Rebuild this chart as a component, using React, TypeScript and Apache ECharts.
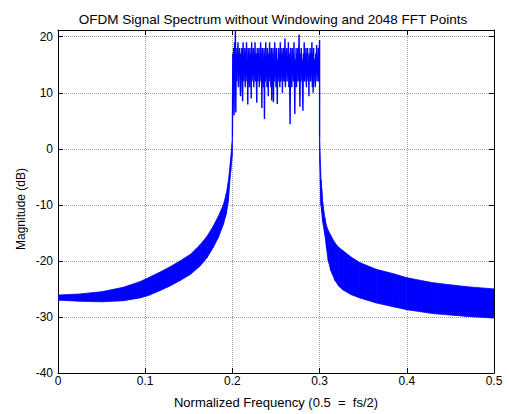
import React, { useEffect, useRef } from "react";
import * as echarts from "echarts";

const TITLE = "OFDM Signal Spectrum without Windowing and 2048 FFT Points";
const X_NAME = "Normalized Frequency (0.5  =  fs/2)";
const Y_NAME = "Magnitude (dB)";

// Lower sideband leakage envelope (0 .. 0.2)
const LEFT_F = [0, 0.025, 0.05, 0.075, 0.094, 0.105, 0.117, 0.128, 0.14, 0.152, 0.163, 0.171, 0.178, 0.184, 0.1896, 0.193, 0.1953, 0.198, 0.2];
const LEFT_LO = [-27.0, -27.2, -27.3, -27.1, -26.6, -26.1, -25.3, -24.5, -23.5, -22.4, -20.9, -19.4, -17.6, -15.8, -13.5, -11.6, -9.4, -4.1, -1];
const LEFT_HI = [-26.1, -25.9, -25.5, -24.7, -23.7, -22.9, -22.0, -21.1, -20.0, -18.8, -17.1, -15.6, -13.8, -12.0, -10.0, -8.0, -5.9, -1.8, 2];

// Upper sideband leakage envelope (0.3 .. 0.5)
const RIGHT_F = [0.3, 0.3016, 0.3024, 0.3035, 0.306, 0.308, 0.31, 0.313, 0.3177, 0.322, 0.327, 0.336, 0.346, 0.365, 0.385, 0.4, 0.43, 0.469, 0.5];
const RIGHT_LO = [-2, -10, -11.3, -13, -15.3, -17.8, -20.0, -21.8, -23.5, -24.5, -25.2, -26.0, -26.6, -27.5, -28.2, -28.7, -29.4, -29.9, -30.2];
const RIGHT_HI = [2, -5.5, -7.1, -9.5, -12.3, -13.8, -14.6, -15.5, -16.8, -17.6, -18.2, -19.3, -20.3, -21.5, -22.3, -23.0, -23.9, -24.6, -25.0];

// In-band FFT bins (0.2 .. 0.3), evenly spaced
const BAND_START = 0.2;
const BAND_END = 0.3;
const IN_BAND_DB = [
  2, 17, 12, 18, 6, 19, 13, 21.2, 6.5, 17, 12, 18, 14, 19, 11, 17, 13, 18, 12, 9.4,
  17, 13, 18, 11, 8.5, 19, 12, 16, 14, 18, 11, 17, 13, 19, 12, 16, 7.9, 18, 13, 17,
  11, 18, 14, 16, 9, 19, 12, 17, 13, 18, 11, 16, 14, 19, 12, 17, 13, 8.2, 18, 12,
  17, 14, 18, 11, 16, 13, 19, 12, 17, 7.3, 18, 13, 16, 11, 18, 5.3, 17, 12, 19, 13,
  16, 11, 18, 14, 9.4, 17, 12, 19, 13, 16, 11, 18, 8.6, 17, 13, 18, 8.3, 16, 12, 19,
  13, 17, 11, 18, 14, 8, 16, 12, 18, 13, 17, 11, 19, 12, 16, 14, 18, 10, 17, 13,
  18, 12, 16, 19.7, 11, 17, 14, 18, 12, 16, 13, 19, 11, 17, 12, 4.4, 18, 13, 16, 11,
  18, 14, 17, 12, 19, 13, 6.2, 16, 12, 18, 11, 17, 14, 18, 12, 16, 20.4, 13, 7.5, 17,
  12, 18, 14, 16, 11, 6.8, 17, 13, 19, 12, 16, 14, 18, 11, 17, 13, 18, 12, 16, 9.4,
  17, 13, 18, 12, 16, 14, 19, 11, 17, 10, 18, 13, 16, 12, 11, 17, 14, 18.5, 12, 16,
  13, 18, 12, 17, 19.4,
];

const X_MIN = 0;
const X_MAX = 0.5;
const X_INTERVAL = 0.1;
const Y_MIN = -40;
const Y_MAX = 21.2;
const Y_INTERVAL = 10;

const BLUE = "#0000ff";
const FONT = "Liberation Sans, Arial, Helvetica, sans-serif";

function quads(f: number[], lo: number[], hi: number[]) {
  const out: number[][] = [];
  for (let i = 0; i < f.length - 1; i++) {
    out.push([f[i], lo[i], hi[i], f[i + 1], lo[i + 1], hi[i + 1]]);
  }
  return out;
}

export default function App() {
  const ref = useRef<HTMLDivElement>(null);

  useEffect(() => {
    if (!ref.current) return;
    const chart = echarts.init(ref.current, undefined, { renderer: "svg" });

    const n = IN_BAND_DB.length;
    const bandLine: number[][] = IN_BAND_DB.map((v, i) => [
      BAND_START + (i * (BAND_END - BAND_START)) / (n - 1),
      v,
    ]);
    bandLine.unshift([LEFT_F[LEFT_F.length - 1], LEFT_HI[LEFT_HI.length - 1]]);
    bandLine.push([RIGHT_F[0], RIGHT_HI[0]]);

    const envData = [...quads(LEFT_F, LEFT_LO, LEFT_HI), ...quads(RIGHT_F, RIGHT_LO, RIGHT_HI)];

    const gridLine = { show: true, lineStyle: { color: "#9a9a9a", type: [1, 1] as any, width: 1 } };
    const tickStyle = { color: "#000", fontSize: 12, fontFamily: FONT };

    chart.setOption({
      animation: false,
      backgroundColor: "#fff",
      title: {
        text: TITLE,
        left: 268,
        top: 7,
        textAlign: "center",
        textStyle: { fontSize: 13.5, fontWeight: "normal", color: "#000", fontFamily: FONT },
      },
      grid: { left: 58, right: 15, top: 30, bottom: 37, containLabel: false },
      graphic: [
        {
          type: "text",
          x: 21,
          y: 209,
          rotation: Math.PI / 2,
          style: {
            text: Y_NAME,
            textAlign: "center",
            textVerticalAlign: "middle",
            fill: "#000",
            fontSize: 12,
            fontFamily: FONT,
          },
        },
      ],
      xAxis: [
        {
          type: "value",
          min: X_MIN,
          max: X_MAX,
          interval: X_INTERVAL,
          name: X_NAME,
          nameLocation: "middle",
          nameGap: 23,
          nameTextStyle: { color: "#000", fontSize: 13, fontFamily: FONT },
          axisLine: { show: true, onZero: false, lineStyle: { color: "#000", width: 1 } },
          axisTick: { show: true, inside: true, length: 5, lineStyle: { color: "#000" } },
          axisLabel: { ...tickStyle, margin: 2 },
          splitLine: gridLine,
        },
        {
          type: "value",
          position: "top",
          min: X_MIN,
          max: X_MAX,
          interval: X_INTERVAL,
          axisLine: { show: true, onZero: false, lineStyle: { color: "#000", width: 1 } },
          axisTick: { show: true, inside: true, length: 5, lineStyle: { color: "#000" } },
          axisLabel: { show: false },
          splitLine: { show: false },
        },
      ],
      yAxis: [
        {
          type: "value",
          min: Y_MIN,
          max: Y_MAX,
          interval: Y_INTERVAL,
          axisLine: { show: true, onZero: false, lineStyle: { color: "#000", width: 1 } },
          axisTick: { show: true, inside: true, length: 5, lineStyle: { color: "#000" } },
          axisLabel: {
            ...tickStyle,
            margin: 5,
            formatter: (v: number) => (Math.abs(v % 10) < 1e-6 ? String(v) : ""),
          },
          splitLine: gridLine,
        },
        {
          type: "value",
          position: "right",
          min: Y_MIN,
          max: Y_MAX,
          interval: Y_INTERVAL,
          axisLine: { show: true, onZero: false, lineStyle: { color: "#000", width: 1 } },
          axisTick: { show: true, inside: true, length: 5, lineStyle: { color: "#000" } },
          axisLabel: { show: false },
          splitLine: { show: false },
        },
      ],
      series: [
        {
          type: "custom",
          name: "leakage",
          xAxisIndex: 0,
          yAxisIndex: 0,
          clip: true,
          data: envData,
          encode: { x: [0, 3], y: [1, 2, 4, 5] },
          renderItem: (params: any, api: any) => {
            const p1 = api.coord([api.value(0), api.value(2)]);
            const p2 = api.coord([api.value(3), api.value(5)]);
            const p3 = api.coord([api.value(3), api.value(4)]);
            const p4 = api.coord([api.value(0), api.value(1)]);
            return {
              type: "polygon",
              shape: { points: [p1, p2, p3, p4] },
              style: { fill: BLUE, stroke: BLUE, lineWidth: 0.8 },
            };
          },
          z: 3,
        },
        {
          type: "line",
          name: "inband",
          xAxisIndex: 0,
          yAxisIndex: 0,
          data: bandLine,
          showSymbol: false,
          symbol: "none",
          clip: true,
          lineStyle: { color: BLUE, width: 1.4 },
          z: 4,
        },
      ],
    });

    return () => chart.dispose();
  }, []);

  return (
    <div
      ref={ref}
      style={{ position: "fixed", left: 0, top: 0, width: 509, height: 414, background: "#fff" }}
    />
  );
}
